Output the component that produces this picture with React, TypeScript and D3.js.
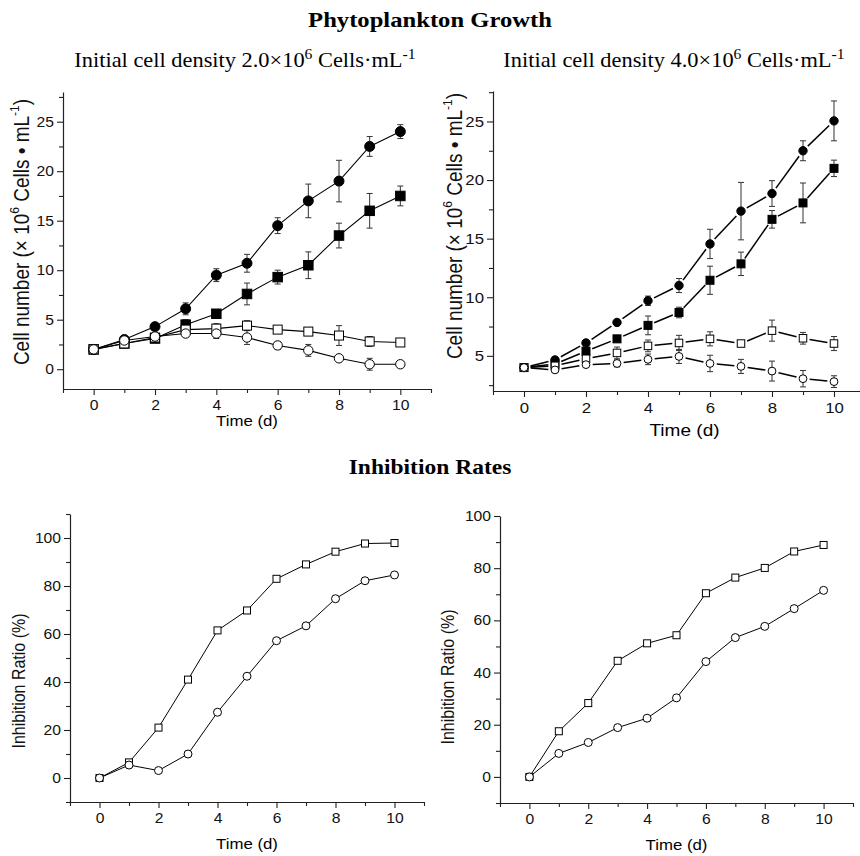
import { useEffect, useRef } from "react";
import * as d3 from "d3";

const W = 860, H = 856;
const SANS = "'Liberation Sans', Arial, Helvetica, sans-serif";
const SERIF = "'Liberation Serif', 'Times New Roman', serif";
const SX = 1.12; // the source picture is a little stretched sideways

const DAYS = [0, 1, 2, 3, 4, 5, 6, 7, 8, 9, 10];
const X_MAJOR = [0, 2, 4, 6, 8, 10];
const X_MINOR = [-1, 1, 3, 5, 7, 9, 11];

// growth, initial 2.0e6 cells/mL
const A_FC = [2.0, 3.0, 4.3, 6.1, 9.5, 10.7, 14.5, 17.0, 19.0, 22.5, 24.0];
const A_FC_ERR = [0.1, 0.3, 0.3, 0.6, 0.65, 0.9, 0.8, 1.7, 2.1, 1.0, 0.7];
const A_FS = [2.0, 2.6, 3.1, 4.5, 5.6, 7.6, 9.3, 10.5, 13.5, 16.0, 17.5];
const A_FS_ERR = [0.1, 0.2, 0.3, 0.5, 0.4, 1.1, 0.7, 1.35, 1.25, 1.75, 1.0];
const A_OS = [2.0, 2.6, 3.2, 4.0, 4.1, 4.4, 4.0, 3.8, 3.4, 2.8, 2.7];
const A_OS_ERR = [0.1, 0.2, 0.2, 0.3, 0.5, 0.5, 0.2, 0.4, 1.0, 0.5, 0.2];
const A_OC = [2.0, 2.9, 3.3, 3.6, 3.6, 3.2, 2.4, 1.9, 1.1, 0.5, 0.5];
const A_OC_ERR = [0.1, 0.3, 0.3, 0.3, 0.5, 0.7, 0.4, 0.6, 0.2, 0.6, 0.3];

// growth, initial 4.0e6 cells/mL
const B_FC = [4.0, 4.65, 6.1, 7.85, 9.7, 11.0, 14.55, 17.35, 18.85, 22.5, 25.05];
const B_FC_ERR = [0.1, 0.2, 0.15, 0.15, 0.4, 0.6, 1.25, 2.45, 1.1, 0.85, 1.7];
const B_FS = [4.0, 4.3, 5.4, 6.45, 7.6, 8.7, 11.45, 12.85, 16.65, 18.05, 21.0];
const B_FS_ERR = [0.1, 0.2, 0.5, 0.2, 0.8, 0.45, 1.2, 1.0, 0.75, 1.7, 0.7];
const B_OS = [4.0, 4.15, 4.75, 5.25, 5.85, 6.1, 6.45, 6.05, 7.15, 6.5, 6.05];
const B_OS_ERR = [0.1, 0.2, 0.3, 0.5, 0.5, 0.65, 0.6, 0.2, 0.9, 0.5, 0.6];
const B_OC = [4.0, 3.8, 4.25, 4.35, 4.7, 4.95, 4.35, 4.1, 3.7, 3.05, 2.8];
const B_OC_ERR = [0.1, 0.2, 0.2, 0.3, 0.45, 0.6, 0.7, 0.6, 0.85, 0.7, 0.5];

// inhibition ratio (%)
const C_SQ = [0, 6.5, 21, 41, 61.5, 69.8, 83, 89, 94.3, 97.7, 97.9];
const C_CI = [0, 5.4, 3.1, 10, 27.4, 42.4, 57.2, 63.4, 74.7, 82.2, 84.6];
const D_SQ = [0, 17.5, 28.3, 44.5, 51.2, 54.3, 70.4, 76.4, 80.1, 86.4, 88.9];
const D_CI = [0, 9.0, 13.2, 18.9, 22.5, 30.3, 44.2, 53.4, 57.7, 64.5, 71.5];

const GROWTH_MAJOR = [0, 5, 10, 15, 20, 25];
const GROWTH_MINOR = [2.5, 7.5, 12.5, 17.5, 22.5, 27.5];
const RATIO_MAJOR = [0, 20, 40, 60, 80, 100];
const RATIO_MINOR = [-10, 10, 30, 50, 70, 90, 110];

type Series = { values: number[]; err?: number[]; shape: "circle" | "square"; filled: boolean };

const PANELS = [
  {
    left: 63, right: 431, top: 92, bottom: 389, yDomain: [-2, 28],
    yMajor: GROWTH_MAJOR, yMinor: GROWTH_MINOR, tickFont: 14,
    r: 5, side: 9.5, lineW: 1.1, gap: 0,
    yLabel: "growth", yLabelX: 22, yLabelY: 232, xLabelY: 421, xLabelFont: 15,
    series: [
      { values: A_FC, err: A_FC_ERR, shape: "circle", filled: true },
      { values: A_FS, err: A_FS_ERR, shape: "square", filled: true },
      { values: A_OS, err: A_OS_ERR, shape: "square", filled: false },
      { values: A_OC, err: A_OC_ERR, shape: "circle", filled: false },
    ] as Series[],
  },
  {
    left: 493, right: 865, top: 91, bottom: 391, yDomain: [2, 27.6],
    yMajor: GROWTH_MAJOR.slice(1), yMinor: GROWTH_MINOR, tickFont: 15,
    r: 4.2, side: 8, lineW: 1.5, gap: 2.5,
    yLabel: "growth", yLabelX: 455, yLabelY: 226, xLabelY: 430, xLabelFont: 17,
    series: [
      { values: B_FC, err: B_FC_ERR, shape: "circle", filled: true },
      { values: B_FS, err: B_FS_ERR, shape: "square", filled: true },
      { values: B_OS, err: B_OS_ERR, shape: "square", filled: false },
      { values: B_OC, err: B_OC_ERR, shape: "circle", filled: false },
    ] as Series[],
  },
  {
    left: 70, right: 424, top: 514, bottom: 802, yDomain: [-10, 110],
    yMajor: RATIO_MAJOR, yMinor: RATIO_MINOR, tickFont: 14,
    r: 4.3, side: 7.5, lineW: 1, gap: 0,
    yLabel: "ratio", yLabelX: 19, yLabelY: 681, xLabelY: 844, xLabelFont: 15,
    series: [
      { values: C_SQ, shape: "square", filled: false },
      { values: C_CI, shape: "circle", filled: false },
    ] as Series[],
  },
  {
    left: 500, right: 853, top: 516, bottom: 803, yDomain: [-10, 100],
    yMajor: RATIO_MAJOR, yMinor: RATIO_MINOR.slice(0, -1), tickFont: 14,
    r: 4.3, side: 7.5, lineW: 1, gap: 0,
    yLabel: "ratio", yLabelX: 448, yLabelY: 677, xLabelY: 845, xLabelFont: 15,
    series: [
      { values: D_SQ, shape: "square", filled: false },
      { values: D_CI, shape: "circle", filled: false },
    ] as Series[],
  },
];

function hText(svg: any, x: number, y: number, txt: string, size: number, family: string, weight = "normal") {
  return svg.append("text")
    .attr("transform", `translate(${x},${y}) scale(${SX},1)`)
    .attr("text-anchor", "middle").attr("font-family", family)
    .attr("font-size", size).attr("font-weight", weight).attr("fill", "#000")
    .text(txt);
}

function subTitle(svg: any, x: number, y: number, val: string) {
  const t = svg.append("text")
    .attr("transform", `translate(${x},${y}) scale(${SX},1)`)
    .attr("text-anchor", "middle").attr("font-family", SERIF)
    .attr("font-size", 20).attr("fill", "#000");
  t.append("tspan").text(`Initial cell density ${val}×10`);
  t.append("tspan").attr("dy", -8).attr("font-size", 14).text("6");
  t.append("tspan").attr("dy", 8).text(" Cells·mL");
  t.append("tspan").attr("dy", -8).attr("font-size", 14).text("-1");
}

function drawPanel(svg: any, p: (typeof PANELS)[number]) {
  const x = d3.scaleLinear().domain([-1, 11]).range([p.left, p.right]);
  const y = d3.scaleLinear().domain(p.yDomain).range([p.bottom, p.top]);
  const g = svg.append("g");

  const styleAxis = (a: any) => {
    a.select(".domain").attr("stroke", "#222").attr("stroke-width", 1.2);
    a.selectAll(".tick line").attr("stroke", "#222").attr("stroke-width", 1.1);
    a.selectAll("text").attr("font-family", SANS).attr("font-size", p.tickFont).attr("fill", "#111");
  };

  // x axis
  g.append("g").attr("transform", `translate(0,${p.bottom})`)
    .call(d3.axisBottom(x).tickValues(X_MINOR).tickSize(4).tickFormat(() => ""))
    .call(styleAxis).call((a: any) => a.select(".domain").remove());
  g.append("g").attr("transform", `translate(0,${p.bottom})`)
    .call(d3.axisBottom(x).tickValues(X_MAJOR).tickSize(6).tickSizeOuter(0).tickPadding(5).tickFormat(d3.format("d")))
    .call(styleAxis)
    .call((a: any) => a.selectAll("text").attr("transform", `scale(${SX},1)`));

  // y axis
  g.append("g").attr("transform", `translate(${p.left},0)`)
    .call(d3.axisLeft(y).tickValues(p.yMinor).tickSize(4).tickFormat(() => ""))
    .call(styleAxis).call((a: any) => a.select(".domain").remove());
  g.append("g").attr("transform", `translate(${p.left},0)`)
    .call(d3.axisLeft(y).tickValues(p.yMajor).tickSize(6).tickSizeOuter(0).tickPadding(2).tickFormat(d3.format("d")))
    .call(styleAxis)
    .call((a: any) => a.selectAll("text").attr("transform", `scale(${SX},1)`));

  // axis titles
  hText(svg, (p.left + Math.min(p.right, W)) / 2 + (p.right > W ? 8 : 0), p.xLabelY, "Time (d)", p.xLabelFont, SANS)
    .attr("dominant-baseline", "central");

  const growth = p.yLabel === "growth";
  const yl = svg.append("text")
    .attr("transform", `translate(${p.yLabelX},${p.yLabelY}) rotate(-90) scale(1,${SX})`)
    .attr("text-anchor", "middle").attr("dominant-baseline", "central")
    .attr("font-family", SANS).attr("font-size", growth ? 19 : 16).attr("fill", "#111");
  if (growth) {
    yl.append("tspan").text("Cell number (× 10");
    yl.append("tspan").attr("dy", -7).attr("font-size", 12).text("6");
    yl.append("tspan").attr("dy", 7).text(" Cells • mL");
    yl.append("tspan").attr("dy", -7).attr("font-size", 12).text("-1");
    yl.append("tspan").attr("dy", 7).text(")");
  } else {
    yl.text("Inhibition Ratio (%)");
  }

  // lines
  p.series.forEach((s) => {
    const pts = DAYS.map((d, i) => [x(d), y(s.values[i])] as [number, number]);
    if (p.gap > 0) {
      const cut = p.r + p.gap;
      for (let i = 0; i < pts.length - 1; i++) {
        const [x1, y1] = pts[i], [x2, y2] = pts[i + 1];
        const len = Math.hypot(x2 - x1, y2 - y1);
        if (len <= cut * 2) continue;
        const ux = (x2 - x1) / len, uy = (y2 - y1) / len;
        g.append("line")
          .attr("x1", x1 + ux * cut).attr("y1", y1 + uy * cut)
          .attr("x2", x2 - ux * cut).attr("y2", y2 - uy * cut)
          .attr("stroke", "#000").attr("stroke-width", p.lineW);
      }
    } else {
      g.append("path").datum(pts)
        .attr("d", d3.line())
        .attr("fill", "none").attr("stroke", "#000").attr("stroke-width", p.lineW);
    }
  });

  // error bars
  p.series.forEach((s) => {
    if (!s.err) return;
    DAYS.forEach((d, i) => {
      const px = x(d), lo = y(s.values[i] - s.err![i]), hi = y(s.values[i] + s.err![i]);
      const eb = g.append("g").attr("stroke", "#333").attr("stroke-width", 1);
      eb.append("line").attr("x1", px).attr("x2", px).attr("y1", lo).attr("y2", hi);
      eb.append("line").attr("x1", px - 3).attr("x2", px + 3).attr("y1", lo).attr("y2", lo);
      eb.append("line").attr("x1", px - 3).attr("x2", px + 3).attr("y1", hi).attr("y2", hi);
    });
  });

  // markers
  p.series.forEach((s) => {
    DAYS.forEach((d, i) => {
      const px = x(d), py = y(s.values[i]);
      const fill = s.filled ? "#000" : "#fff";
      if (s.shape === "circle") {
        g.append("circle").attr("cx", px).attr("cy", py).attr("r", s.filled ? p.r : p.r - 0.3)
          .attr("fill", fill).attr("stroke", "#000").attr("stroke-width", 1);
      } else {
        const a = s.filled ? p.side : p.side - 0.5;
        g.append("rect").attr("x", px - a / 2).attr("y", py - a / 2).attr("width", a).attr("height", a)
          .attr("fill", fill).attr("stroke", "#000").attr("stroke-width", 1);
      }
    });
  });
}

export default function App() {
  const ref = useRef<SVGSVGElement>(null);

  useEffect(() => {
    const svg = d3.select(ref.current);
    svg.selectAll("*").remove();

    hText(svg, 430, 27, "Phytoplankton Growth", 22, SERIF, "bold");
    subTitle(svg, 245, 67, "2.0");
    subTitle(svg, 674, 67, "4.0");
    hText(svg, 430, 474, "Inhibition Rates", 21, SERIF, "bold");

    PANELS.forEach((p) => drawPanel(svg, p));
  }, []);

  return (
    <div style={{ position: "absolute", left: 0, top: 0, width: W, height: H, background: "#fff" }}>
      <svg ref={ref} width={W} height={H} style={{ display: "block" }} />
    </div>
  );
}
